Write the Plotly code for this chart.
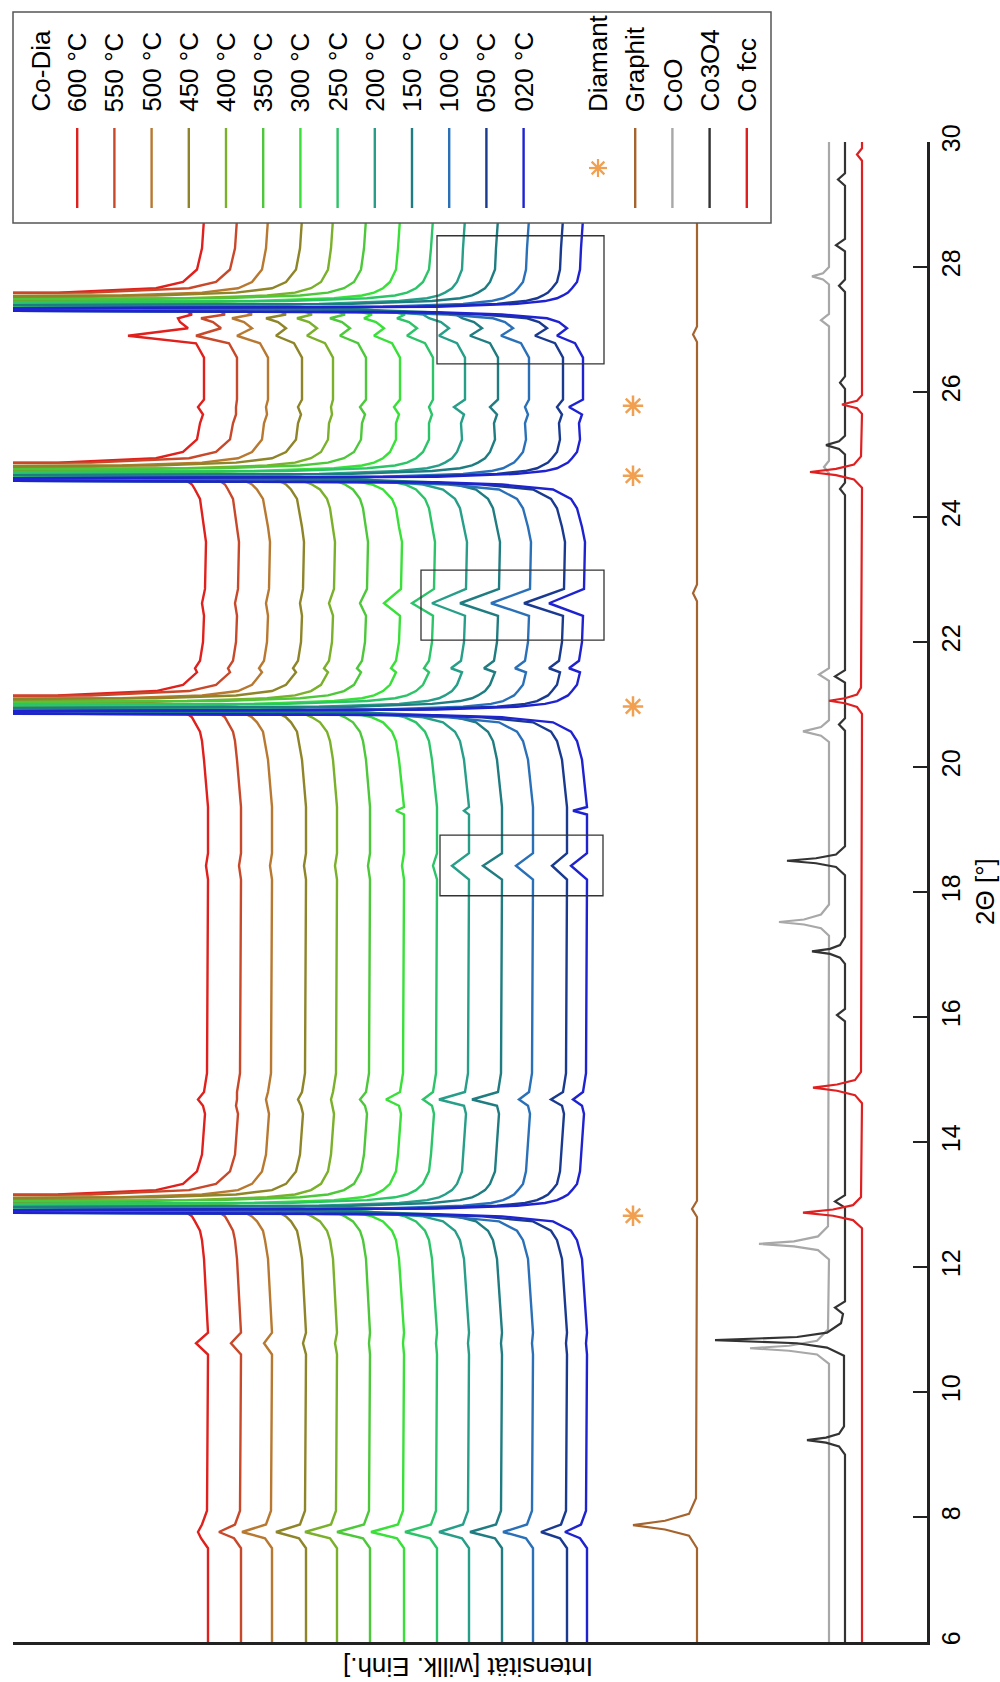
import plotly.graph_objects as go

# ---------------- data ----------------
temp_labels = ["600 °C", "550 °C", "500 °C", "450 °C", "400 °C", "350 °C", "300 °C",
               "250 °C", "200 °C", "150 °C", "100 °C", "050 °C", "020 °C"]
# stacking offset of each Co-Dia pattern (intensity units)
co_dia_offset = [719, 686, 655, 621, 590, 557, 523, 490, 458, 425, 394, 360, 340]
# which intensity-profile group each pattern belongs to near the strong diamond reflections
co_dia_group = [5, 5, 4, 4, 3, 3, 2, 2, 1, 1, 0, 0, 0]
co_dia_colors = ["#E0201C", "#C8482A", "#B87830", "#8E8428", "#7AB02A", "#4CC83A", "#38E038",
                 "#2CC468", "#269E88", "#1F7C80", "#2A70B8", "#1A3A90", "#1E22D0"]

# 2-theta positions of the sampled points, by region
tt_a = [6.0, 7.5, 7.66, 7.76, 7.88, 8.1, 10.6, 10.78, 10.95]
tt_b = [12.13, 12.43, 12.58, 12.73, 12.81, 12.845, 12.89, 12.935, 12.98, 13.025, 13.07, 13.115, 13.16, 13.23,
        13.33, 13.53]
tt_c = [13.8, 14.45, 14.58, 14.68, 14.8, 15.1, 18.2, 18.42, 18.62, 19.24, 19.3, 19.36]
tt_d = [20.115, 20.415, 20.565, 20.715, 20.795, 20.83, 20.875, 20.92, 20.965, 21.01, 21.055, 21.1, 21.145,
        21.215, 21.315, 21.515]
tt_e = [21.58, 21.7, 22.0, 22.42, 22.62, 22.85, 23.6]
tt_f = [23.84, 24.14, 24.29, 24.44, 24.52, 24.555, 24.6, 24.645, 24.69, 24.735, 24.78, 24.825, 24.87, 24.94,
        25.04, 25.24]
tt_g = [25.5, 25.64, 25.76, 25.88, 26.55, 26.78, 26.9, 27.02, 27.12, 27.18]
tt_h = [27.24, 27.275, 27.32, 27.365, 27.41, 27.455, 27.5, 27.545, 27.59, 27.66, 27.76, 27.96]
tt_i = [28.3, 29.0, 30.0]

# intensity above each pattern's own baseline near the strong (off-scale) diamond peaks, per group
strong_g0 = [5, 10, 16, 34, 85, 150, 900, 150, 70, 42, 30, 24, 19, 15, 10, 7]
strong_g1 = [5, 9, 14, 26, 46, 70, 150, 900, 150, 70, 42, 30, 24, 17, 12, 7]
strong_g2 = [5, 8, 12, 21, 32, 42, 70, 150, 900, 150, 70, 42, 30, 21, 14, 8]
strong_g3 = [4, 7, 10, 17, 25, 30, 42, 70, 150, 900, 150, 70, 42, 26, 16, 9]
strong_g4 = [4, 7, 9, 15, 20, 24, 30, 42, 70, 150, 900, 150, 70, 34, 20, 10]
strong_g5 = [4, 6, 8, 13, 16, 19, 24, 30, 42, 70, 150, 900, 150, 52, 25, 11]

# intensity above baseline in the other regions, one row per pattern (600 ... 020 °C)
rel_a = [[0, 0, 7, 10, 6, 1, 0, 12, 0], [0, 0, 7, 22, 6, 1, 0, 10, 0], [0, 0, 7, 30, 6, 1, 0, 8, 0],
         [0, 0, 7, 30, 6, 1, 0, 3, 0], [0, 0, 7, 32, 6, 1, 0, 2, 0], [0, 0, 7, 33, 6, 1, 0, 1, 0],
         [0, 0, 7, 33, 6, 1, 0, 1, 0], [0, 0, 7, 32, 6, 1, 0, 1, 0], [0, 0, 7, 30, 6, 1, 0, 1, 0],
         [0, 0, 7, 32, 6, 1, 0, 1, 0], [0, 0, 7, 30, 6, 1, 0, 1, 0], [0, 0, 7, 26, 6, 1, 0, 1, 0],
         [0, 0, 7, 22, 6, 1, 0, 1, 0]]
rel_c = [[6, 3, 5, 10, 4, 1, 0, 2, 0, 0, 0, 0], [6, 3, 5, 4, 4, 1, 0, 2, 0, 0, 0, 0],
         [6, 3, 5, 6, 4, 1, 0, 2, 0, 0, 0, 0], [6, 3, 5, 8, 4, 1, 0, 2, 0, 0, 0, 0],
         [6, 3, 5, 6, 4, 1, 0, 2, 0, 0, 0, 0], [6, 3, 5, 10, 4, 1, 0, 2, 0, 0, 0, 0],
         [6, 3, 5, 18, 4, 1, 0, 2, 0, 0, 8, 0], [6, 3, 5, 14, 4, 1, 0, 4, 0, 0, 0, 0],
         [6, 3, 5, 30, 4, 1, 0, 17, 0, 0, 5, 0], [6, 3, 5, 30, 4, 1, 0, 19, 0, 0, 0, 0],
         [6, 3, 5, 14, 4, 1, 0, 17, 0, 0, 0, 0], [6, 3, 5, 16, 4, 1, 0, 15, 0, 0, 0, 0],
         [6, 3, 5, 14, 4, 1, 0, 16, 0, 0, 14, 0]]
rel_e = [[13, 8, 5, 4, 6, 3, 2], [13, 8, 5, 4, 6, 3, 2], [13, 8, 5, 4, 6, 3, 2], [13, 8, 5, 4, 6, 3, 2],
         [13, 8, 5, 4, 8, 3, 2], [13, 8, 5, 4, 10, 3, 2], [13, 8, 5, 4, 20, 3, 2], [13, 8, 5, 4, 25, 3, 2],
         [18, 8, 5, 4, 37, 3, 2], [18, 8, 5, 4, 42, 3, 2], [18, 8, 5, 4, 42, 3, 2], [18, 8, 5, 4, 43, 3, 2],
         [18, 8, 5, 4, 38, 3, 2]]
rel_g = [[8, 5, 10, 4, 4, 12, 80, 20, 28, 30], [8, 5, 5, 4, 4, 12, 45, 20, 28, 40],
         [8, 5, 6, 4, 4, 12, 35, 20, 28, 40], [8, 5, 8, 4, 4, 12, 30, 20, 28, 40],
         [8, 5, 6, 4, 4, 12, 30, 20, 28, 40], [8, 5, 10, 4, 4, 12, 30, 20, 28, 40],
         [8, 5, 10, 4, 4, 12, 30, 20, 28, 40], [8, 5, 8, 4, 4, 12, 30, 20, 28, 40],
         [8, 5, 15, 4, 4, 12, 30, 20, 28, 40], [8, 5, 12, 4, 4, 12, 32, 20, 28, 40],
         [8, 5, 8, 4, 4, 12, 32, 20, 28, 40], [8, 5, 10, 4, 4, 12, 32, 20, 28, 40],
         [8, 5, 18, 4, 4, 12, 30, 20, 28, 40]]
rel_i = [6, 3, 1]

# reference patterns
graphit_2theta = [6.0, 7.5, 7.7, 7.8, 7.87, 7.94, 8.05, 8.3, 12.8, 12.93, 13.06, 22.65, 22.78, 22.92,
                  26.8, 26.92, 27.05, 30.0]
graphit_int = [230, 230, 238, 262, 294, 262, 238, 231, 230, 235, 230, 230, 234, 230, 230, 234, 230, 230]

coo_2theta = [6.0, 10.45, 10.6, 10.66, 10.7, 10.74, 10.82, 11.0, 12.12, 12.27, 12.33, 12.37, 12.41, 12.49,
              12.65, 17.3, 17.42, 17.48, 17.52, 17.56, 17.64, 17.8, 20.4, 20.5, 20.57, 20.64, 20.75, 21.38,
              21.48, 21.58, 24.7, 24.8, 24.9, 27.05, 27.15, 27.25, 27.72, 27.8, 27.85, 27.9, 28.0, 30.0]
coo_int = [98, 98, 110, 138, 177, 138, 110, 99, 98, 109, 133, 168, 133, 109, 99, 98, 106, 123, 148, 123, 106,
           98, 98, 106, 124, 106, 98, 98, 108, 98, 98, 103, 98, 98, 106, 98, 98, 104, 115, 104, 98, 98]

co3o4_2theta = [6.0, 9.0, 9.13, 9.19, 9.23, 9.27, 9.33, 9.45, 10.58, 10.71, 10.78, 10.83, 10.88, 10.95, 11.1,
                11.25, 11.35, 11.45, 12.95, 13.05, 13.15, 15.93, 16.03, 16.13, 16.85, 16.95, 17.01, 17.05,
                17.09, 17.15, 17.28, 18.27, 18.4, 18.46, 18.5, 18.54, 18.6, 18.73, 20.58, 20.68, 20.78, 21.35,
                21.45, 21.55, 24.35, 24.45, 24.55, 25.0, 25.09, 25.15, 25.21, 25.3, 26.05, 26.15, 26.25, 27.6,
                27.7, 27.8, 28.25, 28.35, 28.45, 29.3, 29.4, 29.5, 30.0]
co3o4_int = [82, 82, 88, 101, 120, 101, 88, 83, 83, 100, 130, 212, 130, 100, 86, 84, 92, 82, 82, 92, 82, 82,
             90, 82, 82, 87, 97, 115, 97, 87, 82, 82, 91, 111, 140, 111, 91, 82, 82, 88, 82, 82, 92, 82, 82,
             87, 82, 82, 88, 101, 88, 82, 82, 87, 82, 82, 88, 82, 82, 91, 82, 82, 89, 82, 82]

cofcc_2theta = [6.0, 12.62, 12.75, 12.82, 12.87, 12.92, 12.99, 13.12, 14.62, 14.75, 14.82, 14.87, 14.92, 14.99,
                15.12, 20.85, 20.96, 21.02, 21.06, 21.1, 21.16, 21.27, 24.47, 24.6, 24.67, 24.72, 24.77, 24.84,
                24.97, 25.65, 25.74, 25.8, 25.86, 25.95, 29.7, 29.8, 29.9, 30.0]
cofcc_int = [65, 65, 74, 94, 124, 94, 74, 66, 65, 72, 90, 114, 90, 72, 66, 65, 70, 82, 98, 82, 70, 66, 65, 73,
             91, 117, 91, 73, 66, 65, 70, 85, 70, 65, 65, 70, 65, 65]

reference_labels = ["Graphit", "CoO", "Co3O4", "Co fcc"]
reference_colors = ["#A5632E", "#A8A8A8", "#333333", "#E02020"]

# diamond reflections (asterisks)
diamant_2theta = [12.82, 20.97, 24.66, 25.78]
diamant_int = [294, 294, 294, 294]
diamant_color = "#F0A050"

# highlighted regions
box_2theta_lo = [26.45, 22.03, 17.94]
box_2theta_hi = [28.5, 23.15, 18.91]
box_int_lo = [323, 323, 324]
box_int_hi = [490, 506, 487]

x_ticks = [6, 8, 10, 12, 14, 16, 18, 20, 22, 24, 26, 28, 30]

# ---------------- assemble patterns ----------------
strong = [strong_g0, strong_g1, strong_g2, strong_g3, strong_g4, strong_g5]
two_theta = tt_a + tt_b + tt_c + tt_d + tt_e + tt_f + tt_g + tt_h + tt_i
co_dia_series = []
for k in range(len(temp_labels)):
    s = strong[co_dia_group[k]]
    rel = rel_a[k] + s + rel_c[k] + s + rel_e[k] + s + rel_g[k] + s[4:] + rel_i
    assert len(rel) == len(two_theta)
    co_dia_series.append([co_dia_offset[k] + v for v in rel])

# ---------------- figure ----------------
W, H = 1000, 1682
L, R, T, B = 13, 73, 142, 40
FONT = "Liberation Sans, Arial, sans-serif"


def px(x):
    return (x - L) / (W - L - R)


def py(y):
    return (H - B - y) / (H - T - B)


fig = go.Figure()

for lbl, col, xs, ys in zip(reference_labels, reference_colors,
                            [graphit_2theta, coo_2theta, co3o4_2theta, cofcc_2theta],
                            [graphit_int, coo_int, co3o4_int, cofcc_int]):
    fig.add_trace(go.Scatter(x=ys, y=xs, mode="lines", name=lbl,
                             line=dict(color=col, width=2.2), showlegend=False))

for lbl, col, ys in zip(temp_labels, co_dia_colors, co_dia_series):
    fig.add_trace(go.Scatter(x=ys, y=two_theta, mode="lines", name=lbl,
                             line=dict(color=col, width=2.4), showlegend=False))

fig.add_trace(go.Scatter(x=diamant_int, y=diamant_2theta, mode="markers", name="Diamant",
                         marker=dict(symbol="asterisk-open", size=17, color=diamant_color,
                                     line=dict(color=diamant_color, width=2.5)),
                         showlegend=False))

shapes = []
for a, b, c, d in zip(box_2theta_lo, box_2theta_hi, box_int_lo, box_int_hi):
    shapes.append(dict(type="rect", xref="x", yref="y", x0=c, x1=d, y0=a, y1=b,
                       line=dict(color="#333333", width=1.3), fillcolor="rgba(0,0,0,0)", layer="above"))

shapes.append(dict(type="rect", xref="paper", yref="paper", x0=px(13), x1=px(771), y0=py(223), y1=py(12),
                   line=dict(color="#555555", width=1.5), fillcolor="white", layer="above"))

annotations = []
col_x0, col_dx = 40, 37.2
text_bottom = 114
line_top, line_bottom = 128, 208


def add_text(col_index, text):
    annotations.append(dict(text=text, xref="paper", yref="paper", x=px(col_x0 + col_index * col_dx),
                            y=py(text_bottom), xanchor="center", yanchor="bottom", textangle=-90,
                            showarrow=False, font=dict(family=FONT, size=26, color="black")))


def add_line(col_index, color):
    xc = px(col_x0 + col_index * col_dx)
    shapes.append(dict(type="line", xref="paper", yref="paper", x0=xc, x1=xc, y0=py(line_top),
                       y1=py(line_bottom), line=dict(color=color, width=2.4), layer="above"))


add_text(0, "Co-Dia")
for i, (lbl, col) in enumerate(zip(temp_labels, co_dia_colors)):
    add_text(i + 1, lbl)
    add_line(i + 1, col)

add_text(15, "Diamant")
ax = col_x0 + 15 * col_dx
ay = 168
r = 9
rd = r * 0.7071
for dx, dy in [(r, 0), (0, r), (rd, rd), (rd, -rd)]:
    shapes.append(dict(type="line", xref="paper", yref="paper", x0=px(ax - dx), x1=px(ax + dx),
                       y0=py(ay - dy), y1=py(ay + dy), line=dict(color=diamant_color, width=2.2),
                       layer="above"))
for j, (lbl, col) in enumerate(zip(reference_labels, reference_colors)):
    add_text(16 + j, lbl)
    add_line(16 + j, col)

annotations.append(dict(text="2\u0398 [°]", xref="paper", yref="paper", x=px(985), y=py(891),
                        xanchor="center", yanchor="middle", textangle=-90, showarrow=False,
                        font=dict(family=FONT, size=26, color="black")))
annotations.append(dict(text="Intensität [willk. Einh.]", xref="paper", yref="paper", x=px(468), y=py(1667),
                        xanchor="center", yanchor="middle", textangle=180, showarrow=False,
                        font=dict(family=FONT, size=26, color="black")))

fig.update_layout(
    width=W, height=H,
    margin=dict(l=L, r=R, t=T, b=B),
    paper_bgcolor="white", plot_bgcolor="white",
    showlegend=False,
    shapes=shapes,
    annotations=annotations,
    xaxis=dict(range=[914, 0], showline=True, linecolor="#222222", linewidth=2.5, showticklabels=False,
               ticks="", showgrid=False, zeroline=False, fixedrange=True),
    yaxis=dict(range=[6, 30], side="right", showline=True, linecolor="#222222", linewidth=2.5,
               ticks="inside", ticklen=14, tickwidth=2, tickcolor="#222222",
               tickvals=x_ticks, ticktext=[str(v) for v in x_ticks], tickangle=-90,
               tickfont=dict(family=FONT, size=25, color="black"),
               showgrid=False, zeroline=False, fixedrange=True),
)

fig.write_html("out.html", config={"displayModeBar": False, "staticPlot": True},
               post_script="document.body.style.margin='0px';document.documentElement.style.margin='0px';")
